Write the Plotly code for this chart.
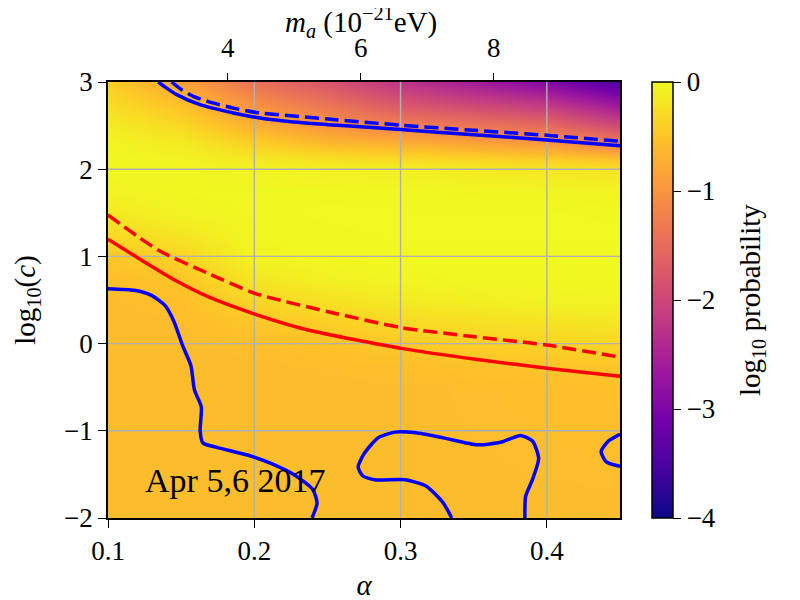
import plotly.graph_objects as go

# ---------------- data ----------------
alpha_cols = [0.10, 0.15, 0.20, 0.25, 0.30, 0.35, 0.40, 0.45]
logc_rows = [-2.0, -0.5, -0.25, 0.0, 0.25, 0.5, 0.75, 1.0, 1.25, 1.5, 1.75,
             2.0, 2.1, 2.3, 2.5, 2.75, 3.0]
z_rows = [
    [-0.58, -0.58, -0.58, -0.58, -0.58, -0.58, -0.58, -0.58],
    [-0.58, -0.58, -0.58, -0.58, -0.58, -0.57, -0.56, -0.55],
    [-0.58, -0.58, -0.58, -0.57, -0.55, -0.52, -0.50, -0.48],
    [-0.58, -0.58, -0.56, -0.52, -0.45, -0.40, -0.36, -0.33],
    [-0.58, -0.58, -0.48, -0.40, -0.30, -0.24, -0.20, -0.17],
    [-0.58, -0.55, -0.33, -0.22, -0.13, -0.09, -0.06, -0.05],
    [-0.56, -0.48, -0.17, -0.07, -0.03, -0.02, -0.02, -0.02],
    [-0.48, -0.35, -0.04, -0.02, -0.01, -0.01, -0.01, -0.01],
    [-0.32, -0.18, -0.02, -0.01, 0.00, 0.00, 0.00, 0.00],
    [-0.15, -0.06, -0.01, 0.00, 0.00, 0.00, 0.00, -0.01],
    [-0.06, -0.02, -0.01, -0.01, -0.02, -0.03, -0.04, -0.05],
    [-0.03, -0.04, -0.06, -0.10, -0.10, -0.14, -0.18, -0.22],
    [-0.02, -0.05, -0.15, -0.20, -0.25, -0.32, -0.38, -0.50],
    [-0.05, -0.13, -0.40, -0.62, -0.72, -0.85, -0.97, -1.30],
    [-0.12, -0.30, -0.70, -1.00, -1.22, -1.36, -1.50, -1.95],
    [-0.27, -0.55, -1.05, -1.40, -1.80, -2.00, -2.20, -2.70],
    [-0.40, -0.85, -1.42, -1.80, -2.25, -2.60, -2.95, -3.45],
]

# blue contours
blue_top_solid_x = [0.1344, 0.1401, 0.147, 0.1629, 0.1857, 0.2039, 0.225, 0.260, 0.300, 0.350, 0.400, 0.450]
blue_top_solid_y = [3.00, 2.93, 2.855, 2.74, 2.645, 2.587, 2.545, 2.50, 2.455, 2.395, 2.335, 2.268]
blue_top_dash_x = [0.1435, 0.1504, 0.1583, 0.1697, 0.1857, 0.2016, 0.2504, 0.300, 0.350, 0.400, 0.450]
blue_top_dash_y = [3.00, 2.91, 2.835, 2.77, 2.70, 2.65, 2.575, 2.505, 2.446, 2.389, 2.32]
blue_left_x = [0.100, 0.118, 0.1297, 0.1391, 0.145, 0.1509, 0.1567, 0.1591, 0.1638, 0.163,
               0.1649, 0.1743, 0.1954, 0.2118, 0.2283, 0.240, 0.2429, 0.2395]
blue_left_y = [0.63, 0.611, 0.553, 0.435, 0.257, -0.018, -0.254, -0.531, -0.727, -1.00,
               -1.14, -1.19, -1.278, -1.377, -1.515, -1.672, -1.828, -2.00]
blue_mid_x = [0.335, 0.3292, 0.3174, 0.3034, 0.2822, 0.274, 0.271, 0.2752, 0.2846, 0.2963,
              0.3104, 0.3292, 0.3527, 0.3691, 0.382, 0.3903, 0.3944, 0.3903, 0.3855, 0.385]
blue_mid_y = [-2.00, -1.828, -1.633, -1.562, -1.562, -1.515, -1.416, -1.259, -1.081, -1.015,
              -1.023, -1.081, -1.161, -1.129, -1.054, -1.12, -1.318, -1.554, -1.751, -2.00]
blue_right_x = [0.450, 0.4419, 0.4371, 0.4406, 0.450]
blue_right_y = [-1.04, -1.12, -1.239, -1.357, -1.408]

# red contours
red_solid_x = [0.100, 0.1228, 0.1456, 0.1684, 0.2003, 0.2367, 0.3005, 0.3526, 0.4043, 0.450]
red_solid_y = [1.196, 0.959, 0.729, 0.538, 0.339, 0.156, -0.055, -0.183, -0.290, -0.375]
red_dash_x = [0.100, 0.1342, 0.1684, 0.2003, 0.2504, 0.3005, 0.3507, 0.3999, 0.450]
red_dash_y = [1.475, 1.073, 0.806, 0.577, 0.366, 0.183, 0.079, -0.016, -0.155]

x_range = [0.1, 0.45]
y_range = [-2, 3]
x_ticks = [0.1, 0.2, 0.3, 0.4]
y_ticks = [-2, -1, 0, 1, 2, 3]
x_grid = [0.2, 0.3, 0.4]
y_grid = [-1, 0, 1, 2]
ma_per_alpha = 22.0           # m_a (1e-21 eV) per unit alpha
ma_ticks = [4, 6, 8]
ma_title = "<i>m</i><sub><i>a</i></sub> (10<sup>−21</sup>eV)"
cbar_ticks = [0, -1, -2, -3, -4]
cbar_title = "log<sub>10</sub> probability"
label_text = "Apr 5,6 2017"
label_pos = (0.124, -1.57)

FONT = "Liberation Serif"
FS = 27
FT = 29
BLUE = "#0000ff"
RED = "#ff0000"
GRID = "#b0b0b0"
TL = 8

fig = go.Figure()

fig.add_trace(go.Heatmap(
    x=alpha_cols, y=logc_rows, z=z_rows,
    colorscale="Plasma", zmin=-4, zmax=0, zsmooth="best",
    hoverinfo="skip",
    colorbar=dict(
        x=1.0625, xanchor="left", y=0.5, yanchor="middle",
        len=1, lenmode="fraction", thickness=21, thicknessmode="pixels",
        xpad=0, ypad=0,
        outlinewidth=1.5, outlinecolor="black",
        ticks="outside", ticklen=TL, tickwidth=1.3, tickcolor="black",
        tickvals=cbar_ticks, tickfont=dict(family=FONT, size=FS, color="black"),
    ),
))

# invisible trace so the top (m_a) axis is drawn
fig.add_trace(go.Scatter(x=[x_range[0] * ma_per_alpha, x_range[1] * ma_per_alpha],
                         y=y_range, xaxis="x2", yaxis="y", mode="markers",
                         marker=dict(opacity=0), hoverinfo="skip", showlegend=False))

# grid lines (drawn above the heatmap, below the contours)
for gx in x_grid:
    fig.add_trace(go.Scatter(x=[gx, gx], y=y_range, mode="lines",
                             line=dict(color=GRID, width=1.4),
                             hoverinfo="skip", showlegend=False))
for gy in y_grid:
    fig.add_trace(go.Scatter(x=x_range, y=[gy, gy], mode="lines",
                             line=dict(color=GRID, width=1.4),
                             hoverinfo="skip", showlegend=False))

def add_line(xs, ys, color, dash):
    fig.add_trace(go.Scatter(
        x=xs, y=ys, mode="lines",
        line=dict(color=color, width=3.5, dash=dash, shape="spline", smoothing=0.6),
        hoverinfo="skip", showlegend=False))

add_line(blue_top_solid_x, blue_top_solid_y, BLUE, "solid")
add_line(blue_top_dash_x, blue_top_dash_y, BLUE, "14px,6px")
add_line(blue_left_x, blue_left_y, BLUE, "solid")
add_line(blue_mid_x, blue_mid_y, BLUE, "solid")
add_line(blue_right_x, blue_right_y, BLUE, "solid")
add_line(red_solid_x, red_solid_y, RED, "solid")
add_line(red_dash_x, red_dash_y, RED, "14px,6px")

fig.add_annotation(x=label_pos[0], y=label_pos[1], xref="x", yref="y",
                   text=label_text, showarrow=False, xanchor="left", yanchor="middle",
                   font=dict(family=FONT, size=34, color="black"))

# colourbar title
fig.add_annotation(x=1.258, y=0.5, xref="paper", yref="paper", text=cbar_title,
                   textangle=-90, showarrow=False, xanchor="center", yanchor="middle",
                   font=dict(family=FONT, size=FT, color="black"))

# top-axis title
fig.add_annotation(x=0.494, y=1.137, xref="paper", yref="paper", text=ma_title,
                   showarrow=False, xanchor="center", yanchor="middle",
                   font=dict(family=FONT, size=FT, color="black"))

axis_common = dict(
    showline=True, linecolor="black", linewidth=1.6, mirror=True,
    ticks="outside", ticklen=TL, tickwidth=1.3, tickcolor="black",
    showgrid=False, zeroline=False, layer="above traces", automargin=False,
    tickfont=dict(family=FONT, size=FS, color="black"),
)

fig.update_layout(
    width=800, height=600,
    margin=dict(l=100, r=188, t=74, b=90),
    paper_bgcolor="white", plot_bgcolor="white",
    showlegend=False,
    font=dict(family=FONT, color="black"),
    xaxis=dict(range=x_range, tickvals=x_ticks, tickformat=".1f",
               title=dict(text="<i>α</i>", font=dict(family=FONT, size=FT, color="black"), standoff=9),
               **axis_common),
    yaxis=dict(range=y_range, tickvals=y_ticks,
               title=dict(text="log<sub>10</sub>(<i>c</i>)", font=dict(family=FONT, size=FT, color="black"),
                          standoff=20),
               **axis_common),
    xaxis2=dict(overlaying="x", side="top", anchor="y", automargin=False,
                range=[x_range[0] * ma_per_alpha, x_range[1] * ma_per_alpha],
                tickvals=ma_ticks, ticks="outside", ticklen=TL, tickwidth=1.3, tickcolor="black",
                ticklabelstandoff=5,
                showgrid=False, zeroline=False, showline=False,
                tickfont=dict(family=FONT, size=FS, color="black")),
)

fig.write_html("out.html")
